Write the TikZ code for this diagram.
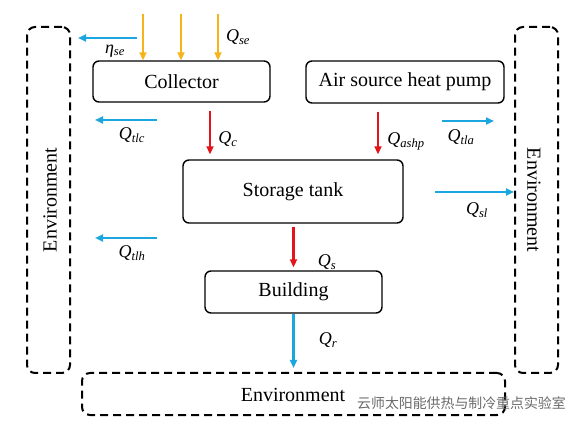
\documentclass[tikz,border=0pt]{standalone}
\usepackage{fontspec}
\setmainfont{Liberation Serif}
\newfontfamily\cjk{Noto Sans CJK SC}
\usetikzlibrary{arrows.meta}
\definecolor{sunc}{HTML}{F4B41A}
\definecolor{lossc}{HTML}{1CA6DF}
\definecolor{heatc}{HTML}{E2151B}
\definecolor{wmark}{HTML}{6A6A6A}
\newcommand{\ql}[2]{\textit{#1}\textsubscript{\textit{#2}}}
\begin{document}
\begin{tikzpicture}[x=1pt,y=-1pt,
  comp/.style={draw, rounded corners=6pt, line width=1.4pt, font=\fontsize{20}{24}\selectfont, inner sep=0pt},
  envbox/.style={draw, dash pattern=on 8pt off 5pt, rounded corners=8pt, line width=2pt, inner sep=0pt},
  envtxt/.style={font=\fontsize{20}{24}\selectfont, inner sep=0pt},
  lbl/.style={font=\fontsize{18}{20}\selectfont, inner sep=0pt},
  tip/.style={-{Triangle[length=8pt,width=7pt]}},
  sun/.style={tip, draw=sunc, fill=sunc, line width=2.2pt},
  loss/.style={tip, draw=lossc, fill=lossc, line width=2.4pt},
  heat/.style={tip, draw=heatc, fill=heatc, line width=2.4pt}]
\useasboundingbox (0,0) rectangle (584,430);

% environment boxes
\node[envbox, minimum width=43pt, minimum height=346pt] (envL) at (48.5,200) {};
\node[envbox, minimum width=43pt, minimum height=346pt] (envR) at (536.5,200) {};
\node[envbox, minimum width=423pt, minimum height=42pt] (envB) at (293.5,394) {};
\node[envtxt, rotate=90] (envLt) at (50,200) {Environment};
\node[envtxt, rotate=-90] (envRt) at (534,200) {Environment};
\node[envtxt] (envBt) at (293,395) {Environment};

% components
\node[comp, minimum width=177pt, minimum height=41pt] (col) at (181.5,81.5) {Collector};
\node[comp, minimum width=198pt, minimum height=42pt] (hp) at (405,82) {Air source heat pump};
\node[comp, minimum width=220pt, minimum height=63pt] (st) at (293,191.5) {Storage tank};
\node[comp, minimum width=177pt, minimum height=42pt] (bd) at (293.5,292) {Building};

% solar input
\coordinate (s1) at (143,14);
\coordinate (s2) at (181,14);
\coordinate (s3) at (218,14);
\draw[sun] (s1) -- (s1 |- col.north);
\draw[sun] (s2) -- (s2 |- col.north);
\draw[sun] (s3) -- (s3 |- col.north);
\node[lbl] (lqse) at (238,37) {\ql{Q}{se}};

% losses
\coordinate (a1) at (137,38);  \coordinate (b1) at (78,38);
\draw[loss] (a1) -- (b1);
\node[lbl] (leta) at (115,51) {\ql{η}{se}};
\coordinate (a2) at (157,120); \coordinate (b2) at (95,120);
\draw[loss] (a2) -- (b2);
\node[lbl] (ltlc) at (132,135) {\ql{Q}{tlc}};
\coordinate (a3) at (157,238); \coordinate (b3) at (95,238);
\draw[loss] (a3) -- (b3);
\node[lbl] (ltlh) at (132,253) {\ql{Q}{tlh}};
\coordinate (a4) at (442,121); \coordinate (b4) at (494,121);
\draw[loss] (a4) -- (b4);
\node[lbl] (ltla) at (461,137) {\ql{Q}{tla}};
\coordinate (a5) at (435,192);
\draw[loss] (a5) -- (a5 -| envR.west);
\node[lbl] (lsl) at (477,210) {\ql{Q}{sl}};

% heat flows
\draw[heat, shorten <=8pt, shorten >=5pt] (col.south -| 210,0) -- (st.north -| 210,0);
\node[lbl] (lqc) at (228,139) {\ql{Q}{c}};
\draw[heat, shorten <=8pt, shorten >=5pt] (hp.south -| 378,0) -- (st.north -| 378,0);
\node[lbl] (lqashp) at (406,141) {\ql{Q}{ashp}};
\draw[heat, shorten <=3pt, shorten >=3pt] (st.south -| bd.north) -- (bd.north);
\node[lbl] (lqs) at (327,262) {\ql{Q}{s}};
\draw[loss, shorten >=4pt] (bd.south) -- (bd.south |- envB.north);
\node[lbl] (lqr) at (328,340) {\ql{Q}{r}};

% watermark
\node[font=\cjk\fontsize{13.9}{16}\selectfont, text=wmark, anchor=west, inner sep=0pt] (wm) at (357,403) {云师太阳能供热与制冷重点实验室};
\end{tikzpicture}
\end{document}
